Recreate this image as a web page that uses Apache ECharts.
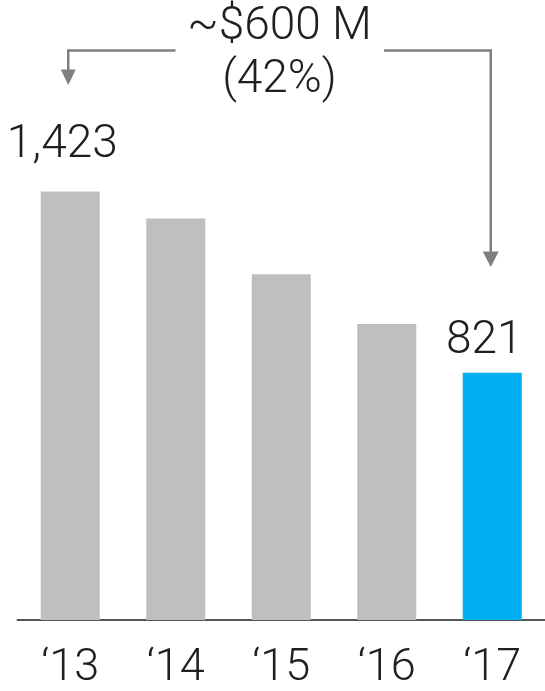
<!DOCTYPE html>
<html>
<head>
<meta charset="utf-8">
<script src="https://cdn.jsdelivr.net/npm/echarts@6/dist/echarts.min.js"></script>
<style>
html,body{margin:0;padding:0;background:#fff;}
#c{width:545px;height:691px;}
</style>
</head>
<body>
<div id="c"></div>
<script>
var categories = ['\u201813', '\u201814', '\u201815', '\u201816', '\u201817'];
var values = [1423, 1333, 1148, 983, 821];
var barColors = ['#BFBFBF', '#BFBFBF', '#BFBFBF', '#BFBFBF', '#00B0F0'];
var labelled = [true, false, false, false, true];
var labelDistance = [23, 0, 0, 0, 8];
var annotationTitle = '~$600 M';
var annotationSub = '(42%)';

var FONT = 'Roboto, "Noto Sans", sans-serif';
var TEXT = '#1F1F1F';
var ARROW = '#7F7F7F';

var chart = echarts.init(document.getElementById('c'), null, {renderer: 'canvas'});

var data = values.map(function (v, i) {
  return {
    value: v,
    itemStyle: {color: barColors[i]},
    label: {
      show: labelled[i],
      position: 'top',
      distance: labelDistance[i],
      offset: [-8, 0],
      formatter: function (p) { return p.value.toLocaleString('en-US'); },
      fontFamily: FONT,
      fontWeight: 300,
      fontSize: 46,
      color: TEXT
    }
  };
});

chart.setOption({
  animation: false,
  grid: {left: 17.5, width: 529, top: 17.6, bottom: 69, containLabel: false},
  xAxis: {
    type: 'category',
    data: categories,
    axisLine: {show: true, lineStyle: {color: '#555555', width: 2}},
    axisTick: {show: false},
    axisLabel: {
      margin: 26,
      fontFamily: FONT,
      fontWeight: 300,
      fontSize: 45,
      color: TEXT
    }
  },
  yAxis: {
    type: 'value',
    min: 0,
    max: 2000,
    show: false,
    splitLine: {show: false}
  },
  series: [{
    type: 'bar',
    data: data,
    barWidth: 59
  }]
});

var xL = chart.convertToPixel({xAxisIndex: 0}, categories[0]) - 2;
var xR = chart.convertToPixel({xAxisIndex: 0}, categories[4]) - 1.5;
var yTop = 50.5;
var textMid = (xL + xR) / 2;
var lineStyle = {stroke: ARROW, lineWidth: 2.5, fill: null};
chart.setOption({
  graphic: [
    {type: 'polyline', shape: {points: [[175.5, yTop], [xL, yTop], [xL, 71]]}, style: lineStyle},
    {type: 'polygon', shape: {points: [[xL - 7.5, 69.5], [xL + 7.5, 69.5], [xL, 85]]}, style: {fill: ARROW}},
    {type: 'polyline', shape: {points: [[384, yTop], [xR, yTop], [xR, 253]]}, style: lineStyle},
    {type: 'polygon', shape: {points: [[xR - 8, 251.5], [xR + 8, 251.5], [xR, 267]]}, style: {fill: ARROW}},
    {type: 'text', x: textMid, y: 50, style: {text: annotationTitle, fontFamily: FONT, fontWeight: 300, fontSize: 46, fill: TEXT, align: 'center', verticalAlign: 'bottom'}},
    {type: 'text', x: textMid, y: 103, style: {text: annotationSub, fontFamily: FONT, fontWeight: 300, fontSize: 46, fill: TEXT, align: 'center', verticalAlign: 'bottom'}}
  ]
});
</script>
</body>
</html>
